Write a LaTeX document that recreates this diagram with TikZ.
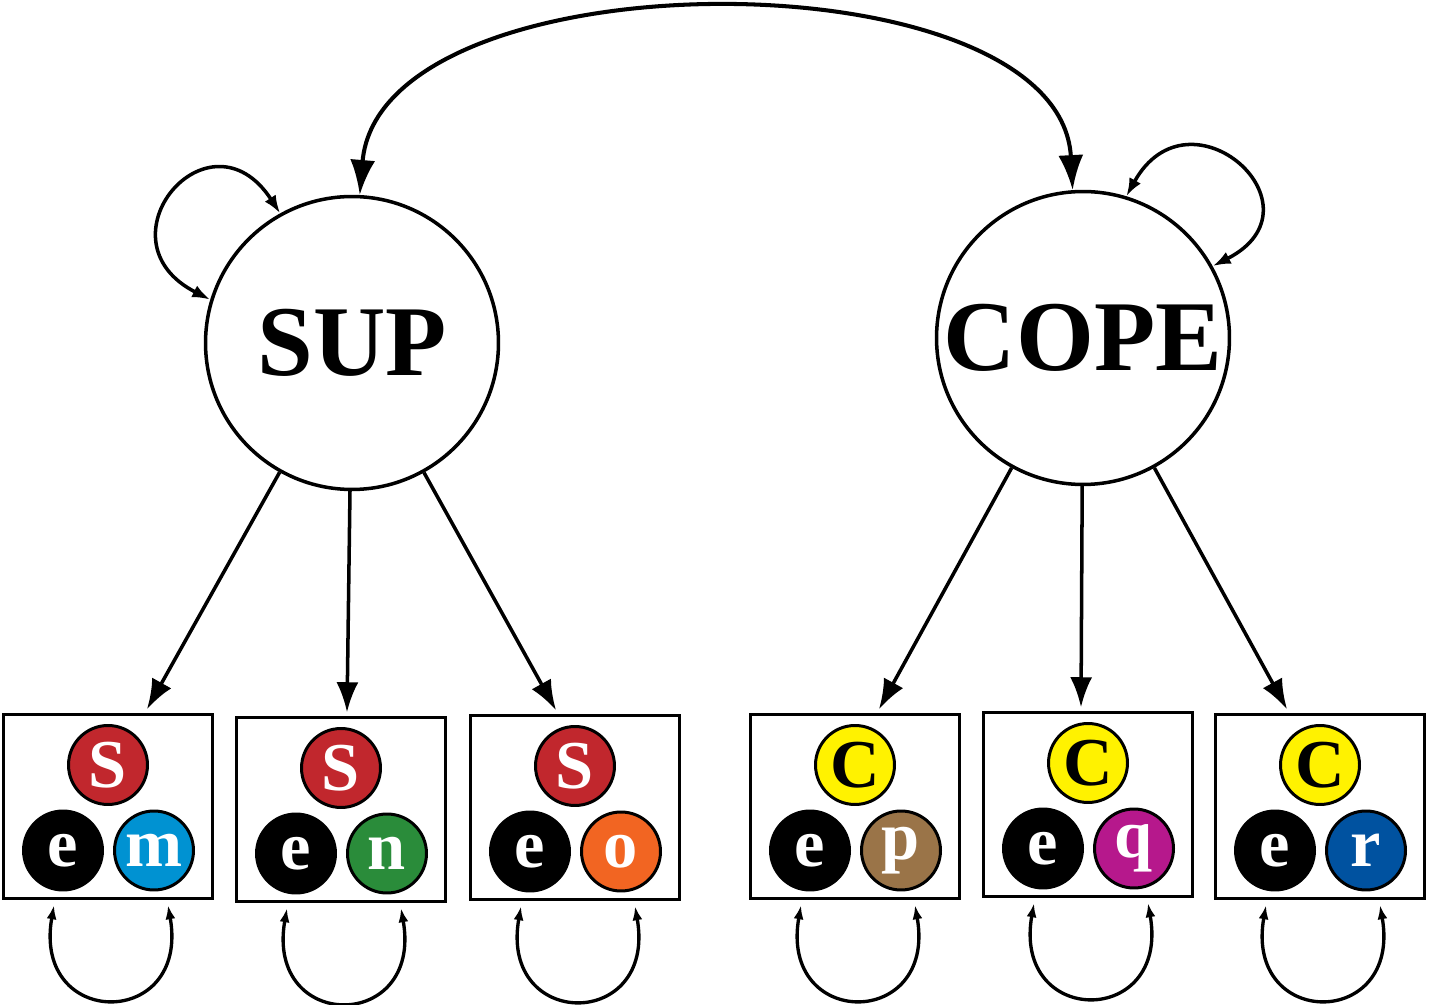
\documentclass[tikz,border=0pt]{standalone}
\usepackage{fontspec}
\setmainfont{Liberation Serif}
\usetikzlibrary{positioning,arrows.meta}
\definecolor{supred}{RGB}{193,39,45}
\definecolor{copeyellow}{RGB}{255,242,0}
\definecolor{mblue}{RGB}{0,146,210}
\definecolor{ngreen}{RGB}{42,140,58}
\definecolor{oorange}{RGB}{242,101,34}
\definecolor{pbrown}{RGB}{154,116,72}
\definecolor{qmagenta}{RGB}{182,24,140}
\definecolor{rblue}{RGB}{0,82,160}

\begin{document}
\begin{tikzpicture}[x=0.02cm,y=0.02cm,
				latent/.style={
					draw,
					circle,
					line width=2pt,
					minimum size=5.86cm,
					inner sep=0pt,
					font=\fontsize{57}{57}\selectfont\bfseries
				},
				indic/.style={
					draw,
					rectangle,
					line width=2pt,
					minimum width=4.18cm,
					minimum height=3.68cm,
					inner sep=0pt
				},
				ball/.style={
					draw,
					circle,
					line width=1.7pt,
					minimum size=1.58cm,
					inner sep=0pt,
					font=\fontsize{39}{39}\selectfont\bfseries
				},
				load/.style={-{Latex[length=6mm,width=4.4mm]}, line width=2pt},
				cov/.style={{Latex[length=7mm,width=5mm]}-{Latex[length=7mm,width=5mm]}, line width=2.3pt},
				selfvar/.style={{Latex[length=3.6mm,width=2.6mm]}-{Latex[length=3.6mm,width=2.6mm]}, line width=2pt},
				errvar/.style={{Latex[length=2.8mm,width=2mm]}-{Latex[length=2.8mm,width=2mm]}, line width=1.9pt}
			]
			\useasboundingbox (0,0) rectangle (1429,1004);
			\node[latent] (sup) at (352,661) {\raisebox{-0.1cm}{SUP}};
			\node[latent] (cope) at (1083,666) {\raisebox{-0.1cm}{COPE}};
			
			\foreach \i/\x/\y/\head/\hcol/\hink/\own/\ocol in {
				1/108/197.5/S/supred/white/m/mblue,
				2/341/194.5/S/supred/white/n/ngreen,
				3/575/196.5/S/supred/white/o/oorange,
				4/855/197.5/C/copeyellow/black/p/pbrown,
				5/1088/199.5/C/copeyellow/black/q/qmagenta,
				6/1320/197.5/C/copeyellow/black/r/rblue}
			{
				\node[indic] (box\i) at (\x,\y) {};
				\node[ball, fill=\hcol, text=\hink] (fac\i) at (\x,\y+41.5) {\head};
				\node[ball, fill=black, text=white] (err\i) at (\x-45,\y-44) {e};
				\node[ball, fill=\ocol, text=white] (uni\i) at (\x+46,\y-44) {\own};
				\draw[errvar] ([xshift=-1.08cm,yshift=-0.1cm]box\i.south) to[out=-100,in=-80,looseness=2.85] ([xshift=1.2cm,yshift=-0.1cm]box\i.south);
			}
			
			\draw[load] (sup) -- ([xshift=0.78cm,yshift=2pt]box1.north);
			\draw[load] (sup) -- ([xshift=0.12cm,yshift=2pt]box2.north);
			\draw[load] (sup) -- ([xshift=-0.38cm,yshift=2pt]box3.north);
			\draw[load] (cope) -- ([xshift=0.48cm,yshift=2pt]box4.north);
			\draw[load] (cope) -- ([xshift=-0.14cm,yshift=2pt]box5.north);
			\draw[load] (cope) -- ([xshift=-0.66cm,yshift=2pt]box6.north);
			
			\draw[cov] (sup.87) .. controls (380,1052) and (1060,1052) .. (cope.94);
			\draw[selfvar] (sup.119) to[out=123,in=153,looseness=3] (sup.163);
			\draw[selfvar] (cope.73) to[out=61,in=27,looseness=3] (cope.29);
		\end{tikzpicture}
\end{document}
